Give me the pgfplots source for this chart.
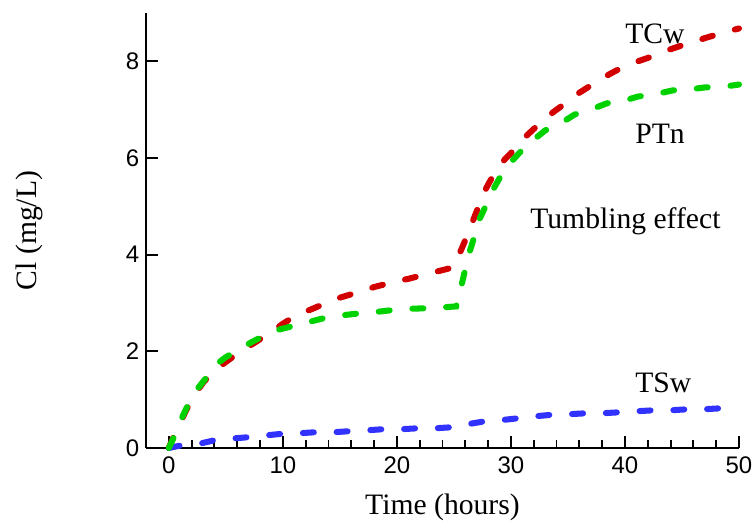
\documentclass[border=0pt]{standalone}
\usepackage{fontspec}
\setmainfont{Liberation Serif}
\newfontfamily\arial{Liberation Sans}
\usepackage{pgfplots}
\pgfplotsset{compat=1.18}
\definecolor{cred}{RGB}{210,0,0}
\definecolor{cgreen}{RGB}{0,210,0}
\definecolor{cblue}{RGB}{50,50,255}
\begin{document}
\begin{tikzpicture}
\begin{axis}[
  scale only axis,
  width=314.17pt, height=230.46pt,
  xmin=-2, xmax=50, ymin=0, ymax=9,
  axis lines=left,
  axis line style={-, line width=1pt},
  xtick={0,10,20,30,40,50},
  ytick={0,2,4,6,8},
  minor x tick num=4,
  tick align=inside,
  major tick length=6.2pt,
  minor tick length=4pt,
  every tick/.style={black, line width=1pt},
  /pgf/number format/assume math mode=true,
  tick label style={font=\fontsize{12.7}{14}\arial},
  xticklabel style={yshift=-1pt},
  xlabel={Time (hours)},
  ylabel={Cl (mg/L)},
  every axis x label/.style={at={(axis description cs:0.5,-0.136)}, anchor=center, font=\fontsize{15.7}{18}\selectfont},
  every axis y label/.style={at={(axis description cs:-0.196,0.5)}, anchor=center, rotate=90, font=\fontsize{15.7}{18}\selectfont},
  clip=false,
  every axis plot/.append style={line width=3.2pt, line cap=round, dash pattern=on 5.8pt off 12.1pt},
]
\addplot[cred] coordinates {
(0,0) (0.5,0.28) (1,0.52) (1.5,0.77) (2,1.0) (2.5,1.18) (3,1.35) (3.5,1.48) (4,1.6) (5,1.78) (6,1.95) (7,2.1) (8,2.25) (9,2.4) (10,2.57) (11,2.72) (12,2.82) (13,2.92) (14,3.02) (15,3.11) (16,3.18) (17,3.25) (18,3.33) (19,3.39) (20,3.45) (21,3.5) (22,3.56) (23,3.62) (24,3.68) (25,3.74) (25.4,3.97) (26,4.3) (26.5,4.6) (27,4.9) (27.5,5.22) (28,5.45) (28.5,5.66) (29,5.85) (29.5,5.98) (30,6.1) (31,6.38) (32,6.6) (33,6.82) (34,7.0) (35,7.17) (36,7.35) (37,7.5) (38,7.65) (39,7.78) (40,7.9) (41,7.99) (42,8.07) (43,8.16) (44,8.25) (45,8.33) (46,8.4) (47,8.48) (48,8.55) (49,8.62) (50,8.68)
};
\addplot[cblue] coordinates {
(0,0) (1.2,0.06) (2.9,0.1) (4.2,0.17) (5.8,0.2) (7.3,0.23) (8.9,0.27) (10.2,0.3) (11.8,0.31) (13.1,0.33) (14.7,0.33) (16,0.35) (17.6,0.37) (18.9,0.39) (20.5,0.39) (22,0.41) (23.5,0.41) (24.9,0.43) (26.4,0.5) (27.9,0.56) (29.3,0.58) (30.8,0.62) (32.3,0.66) (33.7,0.69) (35.2,0.7) (36.7,0.72) (38.1,0.72) (39.6,0.74) (41,0.76) (42.5,0.78) (44,0.78) (45.4,0.8) (46.8,0.8) (48.3,0.82) (50,0.84)
};
\addplot[cgreen] coordinates {
(0,0) (0.3,0.15) (0.6,0.3) (1,0.55) (1.5,0.8) (2,1.05) (2.5,1.22) (3,1.37) (3.5,1.52) (4,1.68) (4.5,1.79) (5,1.88) (5.6,1.96) (6.5,2.09) (7.5,2.22) (8.5,2.34) (9.5,2.44) (10.5,2.5) (11.5,2.56) (12.5,2.62) (13.5,2.68) (15,2.74) (16.5,2.78) (18,2.81) (19.5,2.85) (21,2.88) (22.5,2.89) (24,2.91) (25.2,2.93) (25.5,3.2) (25.9,3.6) (26.3,4.0) (26.7,4.3) (27.1,4.67) (27.7,4.96) (28.3,5.29) (29,5.58) (29.9,5.89) (30.8,6.12) (31.9,6.36) (33,6.57) (34.5,6.74) (35.6,6.9) (37.2,7.02) (38.4,7.13) (40,7.19) (41.1,7.27) (42.9,7.33) (44.2,7.4) (45.7,7.42) (47,7.46) (48.8,7.48) (50,7.52)
};
\node[anchor=base west, inner sep=0pt, font=\fontsize{15.7}{18}\selectfont] at (axis cs:40.0,8.37) {TCw};
\node[anchor=base west, inner sep=0pt, font=\fontsize{15.7}{18}\selectfont] at (axis cs:40.88,6.30) {PTn};
\node[anchor=base west, inner sep=0pt, font=\fontsize{15.7}{18}\selectfont] at (axis cs:31.67,4.55) {Tumbling effect};
\node[anchor=base west, inner sep=0pt, font=\fontsize{15.7}{18}\selectfont] at (axis cs:40.88,1.157) {TSw};
\end{axis}
\pgfresetboundingbox
\path[use as bounding box] (-77.35pt,-42.9pt) rectangle (322.65pt,237.35pt);
\end{tikzpicture}
\end{document}
